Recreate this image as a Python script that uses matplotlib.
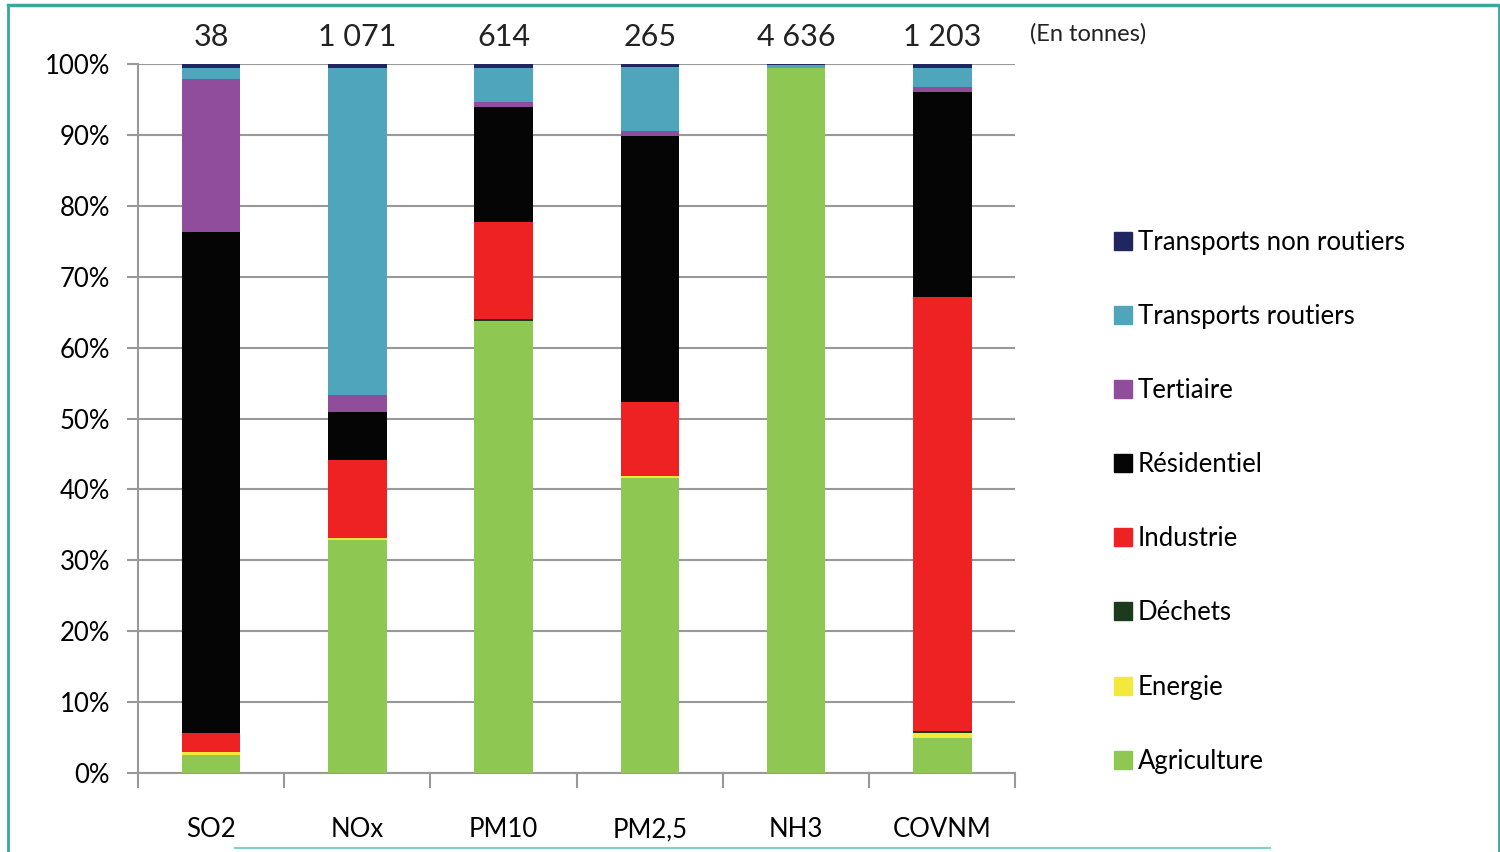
import numpy as np
import matplotlib.pyplot as plt
from matplotlib.lines import Line2D

plt.rcParams['font.family'] = ['Lato', 'DejaVu Sans']

# Polluants et totaux (en tonnes)
polluants = ['SO2', 'NOx', 'PM10', 'PM2,5', 'NH3', 'COVNM']
totaux = ['38', '1 071', '614', '265', '4 636', '1 203']

# Parts par secteur (%)
agriculture = [2.5, 32.9, 63.8, 41.6, 99.5, 4.9]
energie = [0.4, 0.3, 0.0, 0.3, 0.0, 0.7]
dechets = [0.0, 0.0, 0.3, 0.0, 0.0, 0.3]
industrie = [2.8, 11.0, 13.6, 10.4, 0.0, 61.2]
residentiel = [70.6, 6.7, 16.3, 37.6, 0.0, 28.9]
tertiaire = [21.6, 2.4, 0.7, 0.6, 0.0, 0.7]
transports_routiers = [1.6, 46.2, 4.8, 9.1, 0.4, 2.8]
transports_non_routiers = [0.5, 0.5, 0.5, 0.4, 0.1, 0.5]

secteurs = ['Agriculture', 'Energie', 'Déchets', 'Industrie', 'Résidentiel',
            'Tertiaire', 'Transports routiers', 'Transports non routiers']
valeurs = [agriculture, energie, dechets, industrie, residentiel,
           tertiaire, transports_routiers, transports_non_routiers]
couleurs = ['#8EC852', '#F2E93A', '#1C3A1C', '#EE2222', '#050505',
            '#904D9B', '#4FA5BC', '#1F2660']

fig = plt.figure(figsize=(15, 8.52), dpi=100)
ax = fig.add_axes([0.092, 0.0927, 0.585, 0.8322])

x = np.arange(len(polluants))
bas = np.zeros(len(polluants))
for nom, v, c in zip(secteurs, valeurs, couleurs):
    v = np.array(v)
    ax.bar(x, v, 0.4, bottom=bas, color=c, label=nom, zorder=3)
    bas += v

ax.set_xlim(-0.5, len(polluants) - 0.5)
ax.set_ylim(0, 100)
ax.set_yticks(np.arange(0, 101, 10))
ax.set_yticklabels([f'{t}%' for t in range(0, 101, 10)], fontsize=18.5)
ax.set_xticks(x)
ax.set_xticklabels(polluants, fontsize=18.5)
ax.set_xticks(np.arange(-0.5, len(polluants), 1), minor=True)
ax.tick_params(axis='x', which='major', length=0, pad=32)
ax.tick_params(axis='x', which='minor', length=11, width=1.5, color='#999999')
ax.tick_params(axis='y', length=8, width=1.5, color='#999999', pad=12)
ax.grid(axis='y', color='#999999', linewidth=1.5, zorder=0)
for s in ['top', 'right']:
    ax.spines[s].set_visible(False)
for s in ['left', 'bottom']:
    ax.spines[s].set_color('#999999')
    ax.spines[s].set_linewidth(1.5)

# Totaux au-dessus des barres
for xi, t in zip(x, totaux):
    ax.text(xi, 101.8, t, ha='center', va='bottom', fontsize=22, color='#222222')
ax.text(5.596, 102.7, '(En tonnes)', ha='left', va='bottom', fontsize=17, color='#222222')

# Légende (ordre inversé)
poignees = [Line2D([0], [0], marker='s', color='none', markerfacecolor=c,
                   markeredgecolor=c, markersize=13) for c in couleurs[::-1]]
fig.legend(poignees, secteurs[::-1], loc='upper left', bbox_to_anchor=(0.737, 0.742),
           frameon=False, fontsize=18.5, labelspacing=1.91, handlelength=0.6,
           handletextpad=0.25, borderaxespad=0)

# Cadre
teal = '#3AA6A0'
fig.add_artist(Line2D([8 / 1500, 1499 / 1500], [1 - 5 / 852] * 2, color=teal, lw=2.5))
fig.add_artist(Line2D([8 / 1500] * 2, [0, 1 - 5 / 852], color=teal, lw=2))
fig.add_artist(Line2D([1499 / 1500] * 2, [0, 1 - 5 / 852], color=teal, lw=2))
fig.add_artist(Line2D([235 / 1500, 1270 / 1500], [1 - 848 / 852] * 2, color='#7FCFCB', lw=1.5))

fig.savefig('out.png', dpi=100)
